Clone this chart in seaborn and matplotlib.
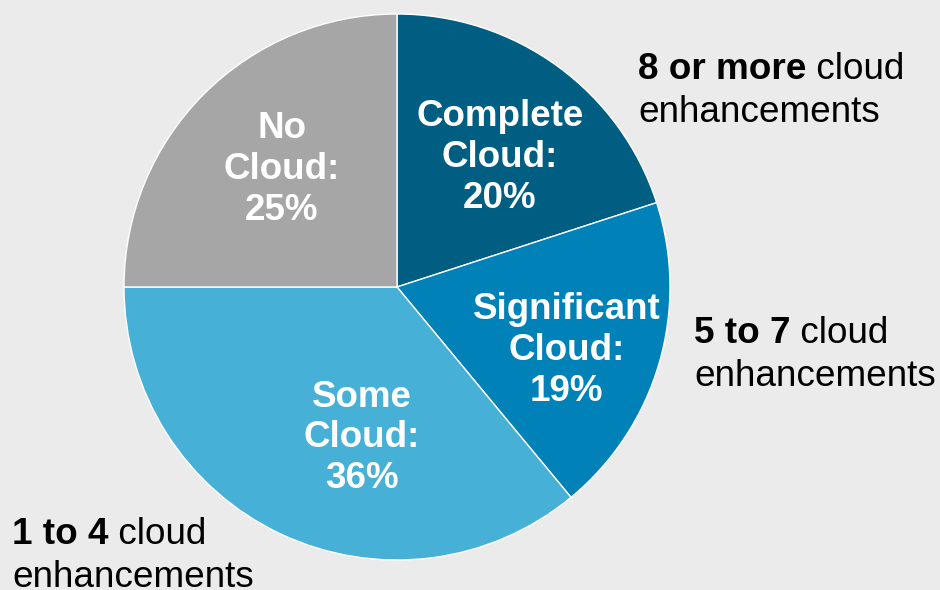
import matplotlib
matplotlib.use("Agg")
import matplotlib.pyplot as plt
import seaborn as sns

# Share of forecasts by amount of cloud enhancement
categories = ["Complete\nCloud:", "Significant\nCloud:", "Some\nCloud:", "No\nCloud:"]
shares = [20, 19, 36, 25]
colors = ["#005e82", "#0082b9", "#47b0d6", "#a6a6a6"]
# label anchor points inside each wedge (data units, pie radius = 1)
label_xy = [(0.377, 0.474), (0.621, -0.234), (-0.130, -0.553), (-0.423, 0.432)]

# side notes: bold lead-in, regular tail, second line
note_bold = ["8 or more", "5 to 7", "1 to 4"]
note_rest = [" cloud", " cloud", " cloud"]
note_line2 = ["enhancements", "enhancements", "enhancements"]
# left edge and first baseline, in pixels from the top-left corner
note_pos = [(638, 79), (694, 343), (12, 544)]

W, H = 940, 590
BG = "#ebebeb"

sns.set_theme(style="white")
plt.rcParams["font.family"] = ["Liberation Sans", "DejaVu Sans"]

fig = plt.figure(figsize=(W / 100, H / 100), dpi=100, facecolor=BG)
cx, cy, r = 397, 287, 273
ax = fig.add_axes([(cx - r) / W, (H - cy - r) / H, 2 * r / W, 2 * r / H])
ax.set_facecolor(BG)

ax.pie(shares, colors=colors, startangle=90, counterclock=False,
       radius=1, wedgeprops=dict(edgecolor="white", linewidth=1.0))
ax.set_xlim(-1, 1)
ax.set_ylim(-1, 1)
ax.set_aspect("equal")
ax.axis("off")

for cat, val, (x, y) in zip(categories, shares, label_xy):
    ax.text(x, y, f"{cat}\n{val}%", ha="center", va="center", color="white",
            fontsize=26.5, fontweight="bold", linespacing=1.22)

FS = 26.6
LINE = 43
fig.canvas.draw()
renderer = fig.canvas.get_renderer()
for b, rest, l2, (px, py) in zip(note_bold, note_rest, note_line2, note_pos):
    tb = fig.text(px / W, (H - py) / H, b, ha="left", va="baseline",
                  fontsize=FS, fontweight="bold", color="black")
    wb = tb.get_window_extent(renderer=renderer).width
    fig.text((px + wb) / W, (H - py) / H, rest, ha="left", va="baseline",
             fontsize=FS, color="black")
    fig.text(px / W, (H - py - LINE) / H, l2, ha="left", va="baseline",
             fontsize=FS, color="black")

fig.savefig("out.png", dpi=100, facecolor=BG)
